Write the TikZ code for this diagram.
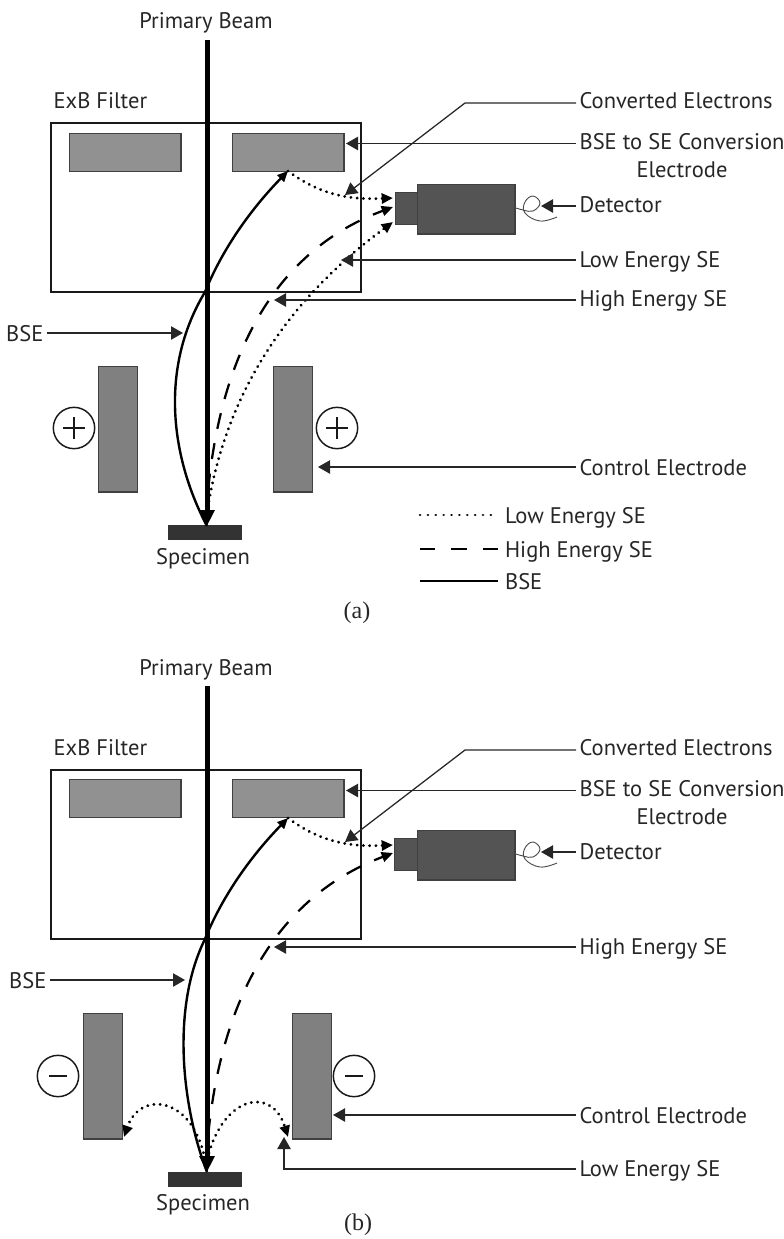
\documentclass[tikz,border=0pt]{standalone}
\usepackage{fontspec}
\setmainfont{PT Sans}
\newfontfamily\capfont{Liberation Serif}
\usetikzlibrary{arrows.meta}
\tikzset{
  labm/.style={font=\fontsize{16.9}{21}\selectfont,text=black!85,inner xsep=2.5pt,inner ysep=0pt},
  lab/.style={labm,text height=13pt,text depth=4pt},
  sub/.style={font=\capfont\fontsize{18}{20}\selectfont,text=black!85,inner sep=0pt},
  leader/.style={-{Triangle[length=9pt,width=10pt]},line width=0.95pt,draw=black!85},
  beam/.style={line width=3.75pt,draw=black,-{Triangle[length=12pt,width=11pt]}},
  boxx/.style={draw=black!90,line width=2.2pt},
  elec/.style={draw=black!75,line width=0.9pt,fill=black!43,inner sep=0pt,anchor=north west,minimum width=83.5pt,minimum height=28.5pt},
  ctrl/.style={draw=black!75,line width=0.9pt,fill=black!50,inner sep=0pt,anchor=north west,minimum width=29pt,minimum height=94pt},
  det/.style={draw=black!75,line width=0.9pt,fill=black!67,inner sep=0pt,anchor=north west},
  spec/.style={draw=black!80,line width=0.6pt,fill=black!80,inner sep=0pt,anchor=north west,minimum width=54.5pt,minimum height=10.5pt},
  bse/.style={line width=1.8pt,draw=black},
  lowse/.style={line width=2.3pt,draw=black,line cap=round,dash pattern=on 0.1pt off 4.6pt,-{Triangle[length=8.5pt,width=7.5pt]}},
  highse/.style={line width=1.7pt,draw=black,dash pattern=on 12pt off 11pt,-{Triangle[length=8.5pt,width=7.5pt]}},
  charge/.style={circle,draw=black!90,line width=1.1pt,fill=white,minimum size=31pt,inner sep=0pt},
  curl/.style={line width=0.7pt,draw=black!70},
}
\begin{document}
\begin{tikzpicture}[x=0.75pt,y=-0.75pt]
\useasboundingbox (0,0) rectangle (784,1239);

%%%% (a)
\node[lab] (pba) at (206,22) {Primary Beam};
\node[lab,anchor=west] (exba) at (50,102) {ExB Filter};
\draw[boxx] (51,123) rectangle (361,292);
\node[elec] (ea1) at (69,133) {};
\node[elec] (ea2) at (232,133) {};
\node[ctrl] (ca1) at (98,366) {};
\node[ctrl] (ca2) at (273,366) {};
\node[spec] (spa) at (168,525) {};
\node[lab] (sla) at (203,558) {Specimen};
\node[charge] (pa1) at (74,428) {};
\node[charge] (pa2) at (337,428) {};
\draw[line width=1.2pt,black!90] (63,428) -- (85,428) (74,417) -- (74,439);
\draw[line width=1.2pt,black!90] (326,428) -- (348,428) (337,417) -- (337,439);
% detector
\node[det,minimum width=16.5pt,minimum height=24pt] (dsa) at (395,192) {};
\node[det,minimum width=73pt,minimum height=37pt] (dba) at (417,184) {};
\draw[curl] plot[smooth,tension=0.7] coordinates {(513,207) (523,210) (533,211) (540,203) (533,196) (525,202) (525,213) (540,221) (557,217)};
% curves
\coordinate (ora) at (206,520);
\coordinate (bta) at (207,40);
\coordinate (bba) at (207,526);
\coordinate (hia) at (393,207);
\coordinate (lwa) at (393,222);
\draw[highse] (ora) .. controls (212,400) and (250,260) .. (hia);
\draw[lowse] (ora) .. controls (218,430) and (260,320) .. (lwa);
\coordinate (bkta) at (205,292);
\coordinate (bupa) at (288,171);
\draw[bse] (bba) .. controls (172,460) and (158,370) .. (bkta);
\draw[bse,-{Triangle[length=8pt,width=7pt]}] (bkta) .. controls (222,250) and (250,210) .. (bupa);
\draw[beam] (bta) -- (bba);
\coordinate (cva) at (393,198);
\draw[lowse] (bupa) .. controls (320,195) and (350,200) .. (cva);
% labels
\node[lab,anchor=west] (lca) at (576,102) {Converted Electrons};
\coordinate (kca) at (465,103);
\coordinate (tca) at (345,195);
\draw[leader] (lca.west |- kca) -- (kca) -- (tca);
\node[labm,anchor=west,align=center] (lba) at (576,156) {BSE to SE Conversion\\Electrode};
\coordinate (tba) at (346,143.5);
\draw[leader] (lba.west |- tba) -- (tba);
\node[lab,anchor=west] (lda) at (576,206) {Detector};
\coordinate (tda) at (541,206);
\draw[leader] (lda.west |- tda) -- (tda);
\node[lab,anchor=west] (lla) at (576,261) {Low Energy SE};
\coordinate (tla) at (341,260);
\draw[leader] (lla.west |- tla) -- (tla);
\node[lab,anchor=west] (lha) at (576,300) {High Energy SE};
\coordinate (tha) at (274,300);
\draw[leader] (lha.west |- tha) -- (tha);
\node[lab,anchor=east] (lbsa) at (47,335) {BSE};
\coordinate (tbsa) at (183,333);
\draw[leader] (lbsa.east |- tbsa) -- (tbsa);
\node[lab,anchor=west] (lcoa) at (576,469) {Control Electrode};
\coordinate (tcoa) at (318,467);
\draw[leader] (lcoa.west |- tcoa) -- (tcoa);
% legend
\node[lab,anchor=west] (k1) at (501.5,517) {Low Energy SE};
\node[lab,anchor=west] (k2) at (501.5,551) {High Energy SE};
\node[lab,anchor=west] (k3) at (501.5,583) {BSE};
\coordinate (k1s) at (420,515);
\coordinate (k2s) at (420,549);
\coordinate (k3s) at (420,581);
\draw[line width=2pt,line cap=round,dash pattern=on 0.1pt off 5.8pt,black,shorten >=5pt] (k1s) -- (k1.west |- k1s);
\draw[line width=2pt,dash pattern=on 11.5pt off 12pt,black] (k2s) -- (k2.west |- k2s);
\draw[line width=1.8pt,black,shorten >=3pt] (k3s) -- (k3.west |- k3s);
\node[sub] (capa) at (357,613) {(a)};

%%%% (b)
\node[lab] (pbb) at (206,669) {Primary Beam};
\node[lab,anchor=west] (exbb) at (50,749) {ExB Filter};
\draw[boxx] (51,770) rectangle (361,939);
\node[elec] (eb1) at (69,779) {};
\node[elec] (eb2) at (232,779) {};
\node[ctrl] (cb1) at (83,1013) {};
\node[ctrl] (cb2) at (292,1013) {};
\node[spec] (spb) at (168,1172) {};
\node[lab] (slb) at (203,1204) {Specimen};
\node[charge] (mb1) at (58,1076) {};
\node[charge] (mb2) at (354,1076) {};
\draw[line width=2.2pt,black!90] (49,1076) -- (67,1076);
\draw[line width=2.2pt,black!90] (345,1076) -- (363,1076);
% detector
\node[det,minimum width=17pt,minimum height=24pt] (dsb) at (394,838) {};
\node[det,minimum width=73pt,minimum height=37pt] (dbb) at (417,830) {};
\draw[curl] plot[smooth,tension=0.7] coordinates {(513,853) (523,856) (533,857) (540,849) (533,842) (525,848) (525,859) (540,867) (557,863)};
% curves
\coordinate (orb) at (206,1165);
\coordinate (btb) at (207,686);
\coordinate (bbb) at (207,1172);
\coordinate (hib) at (393,853);
\draw[highse] (orb) .. controls (212,1047) and (250,907) .. (hib);
\coordinate (lfb) at (124,1137);
\coordinate (rtb) at (288,1137);
\draw[lowse] (orb) .. controls (195,1095) and (140,1090) .. (lfb);
\draw[lowse] (orb) .. controls (220,1095) and (272,1085) .. (rtb);
\coordinate (bktb) at (205,939);
\coordinate (bupb) at (288,818);
\draw[bse] (bbb) .. controls (183,1110) and (170,1010) .. (bktb);
\draw[bse,-{Triangle[length=8pt,width=7pt]}] (bktb) .. controls (222,897) and (250,857) .. (bupb);
\draw[beam] (btb) -- (bbb);
\coordinate (cvb) at (393,845);
\draw[lowse] (bupb) .. controls (320,842) and (350,847) .. (cvb);
% labels
\node[lab,anchor=west] (lcb) at (576,749) {Converted Electrons};
\coordinate (kcb) at (465,750);
\coordinate (tcb) at (345,842);
\draw[leader] (lcb.west |- kcb) -- (kcb) -- (tcb);
\node[labm,anchor=west,align=center] (lbb) at (576,803) {BSE to SE Conversion\\Electrode};
\coordinate (tbb) at (346,790.5);
\draw[leader] (lbb.west |- tbb) -- (tbb);
\node[lab,anchor=west] (ldb) at (576,853) {Detector};
\coordinate (tdb) at (541,852);
\draw[leader] (ldb.west |- tdb) -- (tdb);
\node[lab,anchor=west] (lhb) at (576,948) {High Energy SE};
\coordinate (thb) at (274,947);
\draw[leader] (lhb.west |- thb) -- (thb);
\node[lab,anchor=east] (lbsb) at (50,982) {BSE};
\coordinate (tbsb) at (185,980);
\draw[leader] (lbsb.east |- tbsb) -- (tbsb);
\node[lab,anchor=west] (lcob) at (576,1117) {Control Electrode};
\coordinate (tcob) at (333,1115);
\draw[leader] (lcob.west |- tcob) -- (tcob);
\node[lab,anchor=west] (llb) at (576,1170) {Low Energy SE};
\coordinate (kllb) at (284,1169);
\coordinate (tlb) at (284,1137);
\draw[leader] (llb.west |- kllb) -- (kllb) -- (tlb);
\node[sub] (capb) at (358,1225) {(b)};
\end{tikzpicture}
\end{document}
